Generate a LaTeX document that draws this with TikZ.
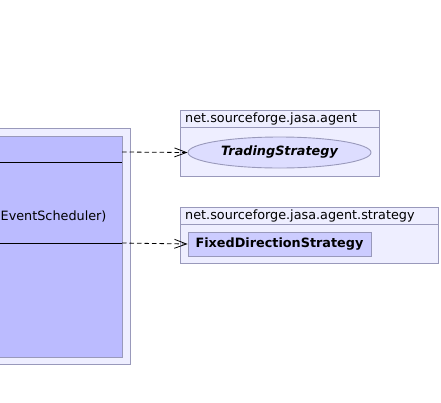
\documentclass[tikz,border=0pt]{standalone}
\usepackage{fontspec}
\setmainfont{DejaVu Sans}
\usetikzlibrary{arrows.meta,shapes.geometric}
\definecolor{pkgfill}{HTML}{EEEEFF}
\definecolor{pkgdraw}{HTML}{9999BB}
\definecolor{bigfill}{HTML}{BBBBFF}
\definecolor{ellfill}{HTML}{DDDDFF}
\definecolor{clsfill}{HTML}{CCCCFF}
\tikzset{
  pkg/.style={draw=pkgdraw,fill=pkgfill,line width=0.9pt},
  txt/.style={font=\fontsize{12.8}{15}\selectfont},
  pkglabel/.style={txt,anchor=west,inner sep=0pt},
  dep/.style={dash pattern=on 4.5pt off 3pt,line width=0.8pt,-{Straight Barb[length=12pt,width=9pt]}},
}
\begin{document}
\begin{tikzpicture}[x=1pt,y=-1pt]
\useasboundingbox (0,0) rectangle (441,402);
\clip (0,0) rectangle (441,402);
% big class container
\draw[pkg] (-20,128) rectangle (130,364);
\draw[draw=pkgdraw,fill=bigfill,line width=0.9pt] (-20,136) rectangle (122,357);
\draw[line width=0.8pt] (-20,162) -- (122,162);
\draw[line width=0.8pt] (-20,243) -- (122,243);
\node[txt,anchor=west,inner sep=0pt] (op) at (0.5,216) {EventScheduler)};
\coordinate (s1) at (122,152);
\coordinate (s2) at (122,243);
% package 1
\draw[pkg] (180,110) rectangle (379,176);
\draw[draw=pkgdraw,line width=0.9pt] (180,127) -- (379,127);
\node[pkglabel] (p1) at (185,118.5) {net.sourceforge.jasa.agent};
\node[ellipse,draw=pkgdraw,fill=ellfill,line width=0.9pt,minimum width=183pt,minimum height=31pt,inner sep=0pt,font={\fontsize{12.8}{15}\selectfont\bfseries\itshape}] (ts) at (279.5,152.5) {TradingStrategy};
% package 2
\draw[pkg] (180,207) rectangle (438,263);
\draw[draw=pkgdraw,line width=0.9pt] (180,224) -- (438,224);
\node[pkglabel] (p2) at (185,215.5) {net.sourceforge.jasa.agent.strategy};
\node[draw=pkgdraw,fill=clsfill,line width=0.9pt,minimum width=183pt,minimum height=24pt,inner sep=0pt,font={\fontsize{12.8}{15}\selectfont\bfseries}] (fd) at (279.5,244) {FixedDirectionStrategy};
% dependencies
\draw[dep] (s1) -- (ts.west);
\draw[dep] (s2) -- (fd.west);
\end{tikzpicture}
\end{document}
